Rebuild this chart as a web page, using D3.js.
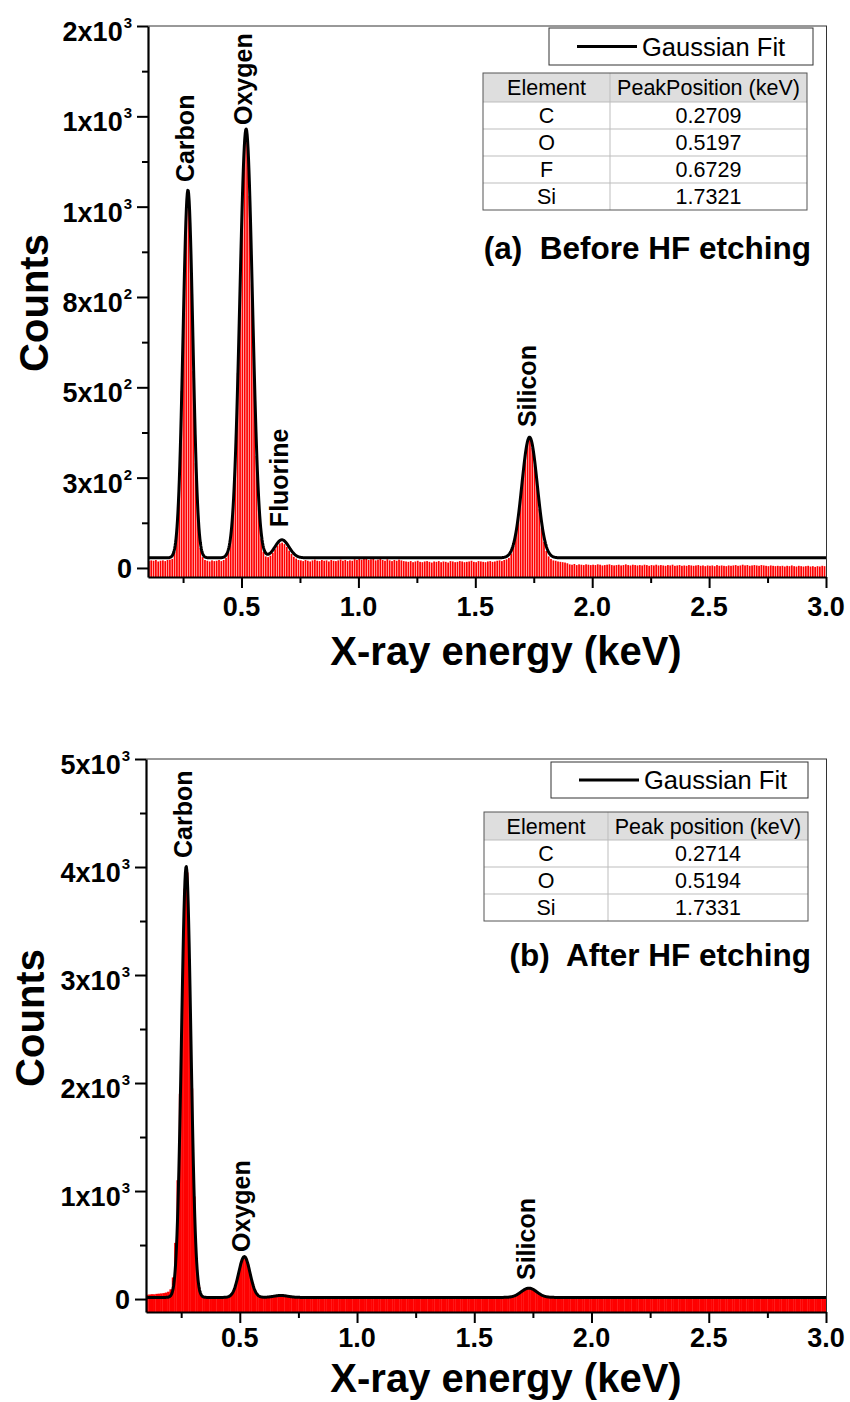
<!DOCTYPE html>
<html><head><meta charset="utf-8">
<script src="https://cdn.jsdelivr.net/npm/d3@7"></script>
<style>
body{margin:0;background:#fff}
svg{display:block}
text{font-family:"Liberation Sans",Arial,Helvetica,sans-serif}
</style>
</head><body>
<svg id="chart" width="850" height="1402"></svg>
<script>
// ---------------- DATA ----------------
const channelStart = 0.10, channelWidth = 0.01;   // keV per channel

// (a) Before HF etching: counts per 0.01 keV channel, 0.10 .. 2.99 keV
const countsA = [
  19,21,20,22,18,20,21,19,22,23,
  25,45,110,250,490,780,995,1010,830,545,290,130,55,30,22,
  20,18,21,19,20,22,19,
  22,28,44,85,172,320,540,800,1040,1185,1180,1030,785,525,310,165,82,45,
  32,30,34,42,52,62,68,70,66,58,48,39,31,26,22,
  21,19,22,20,18,21,23,20,19,22,20,21,18,22,20,19,21,23,20,22,19,21,20,24,22,
  26,23,25,28,22,24,27,21,23,25,22,20,24,21,19,22,20,23,21,19,
  18,17,19,16,18,20,17,16,18,19,17,15,18,17,19,16,18,17,15,19,
  18,16,17,19,18,16,17,18,20,17,16,19,18,17,16,18,19,17,18,20,21,19,22,
  24,28,40,61,94,140,198,260,314,350,356,332,284,224,163,111,72,47,32,25,21,20,
  18,17,16,15,13,
  10,9,11,8,10,9,8,10,9,8,
  9,8,10,9,7,8,9,10,8,7,
  8,9,7,8,10,8,7,9,8,7,
  8,7,9,8,6,8,7,9,7,8,
  7,6,8,7,9,6,7,8,6,7,
  6,8,7,6,7,8,6,7,5,7,
  6,7,5,8,6,7,6,5,7,6,
  7,8,6,7,9,7,8,6,7,8,
  7,6,8,7,6,5,7,6,5,6,
  5,6,4,6,5,7,5,4,6,5,
  4,5,6,4,5,3,5,4,6,5
];

// (b) After HF etching
const countsB = [
  40,42,45,44,48,50,52,55,60,68,
  90,200,520,1100,1900,2950,3800,3950,3150,1950,950,360,120,40,22,
  18,16,17,15,16,18,15,17,16,19,
  25,45,85,150,240,330,385,380,320,228,140,78,42,25,20,
  17,16,18,
  20,24,28,31,33,33,31,28,24,20,
  16,15,17,16,14,18,15,16,17,15,
  16,17,15,14,16,18,16,15,17,16,
  15,16,14,17,15,16,18,15,14,16,
  17,15,16,14,15,17,16,15,16,14,
  15,17,16,15,14,16,17,15,16,15,
  14,16,15,17,16,14,15,16,17,15,
  16,15,14,16,17,15,16,14,15,16,
  17,15,16,15,14,16,15,17,16,15,
  14,16,15,16,17,15,14,16,15,16,
  17,18,
  20,26,34,46,60,76,90,100,102,97,85,70,54,40,30,23,19,
  17,16,15,16,14,15,16,15,14,15,
  16,14,15,13,15,14,16,15,13,14,
  15,14,13,15,14,16,13,14,15,13,
  14,13,15,12,14,13,14,15,12,13,
  14,12,13,14,12,13,15,12,13,14,
  12,13,14,12,13,12,14,13,12,13,
  14,12,13,11,13,12,14,12,13,11,
  12,13,11,12,14,12,11,13,12,11,
  12,11,13,12,11,12,13,11,12,12,
  11,12,10,12,11,13,11,12,10,11,
  12,11,10,12,11,10,12,11,13,10,
  11,10,12,11,10,11,12,10
];

// Gaussian fit parameters
const fitBaselineA = 28;
const fitCentersA = [0.2709, 0.5197, 0.6729, 1.7321];
const fitAmpsA    = [1018, 1187, 50, 334];
const fitSigmasA  = [0.021, 0.027, 0.030, 0.033];

const fitBaselineB = 15;
const fitCentersB = [0.2714, 0.5194, 0.675, 1.7331];
const fitAmpsB    = [3990, 378, 18, 86];
const fitSigmasB  = [0.020, 0.024, 0.030, 0.033];

// Axes ticks / labels
const xTicks = [0.5, 1.0, 1.5, 2.0, 2.5, 3.0];
const xTickLabels = ["0.5", "1.0", "1.5", "2.0", "2.5", "3.0"];
const xMinorTicks = [0.25, 0.75, 1.25, 1.75, 2.25, 2.75];

const yTicksA = [0, 250, 500, 750, 1000, 1250, 1500];
const yTickLabelsA = ["0", "3x10^2", "5x10^2", "8x10^2", "1x10^3", "1x10^3", "2x10^3"];
const yMinorTicksA = [125, 375, 625, 875, 1125, 1375];

const yTicksB = [0, 1000, 2000, 3000, 4000, 5000];
const yTickLabelsB = ["0", "1x10^3", "2x10^3", "3x10^3", "4x10^3", "5x10^3"];
const yMinorTicksB = [500, 1500, 2500, 3500, 4500];

// Peak annotations (energy of peak, count level where the label starts)
const peakNamesA = ["Carbon", "Oxygen", "Fluorine", "Silicon"];
const peakLabelEnergyA = [0.2709, 0.5197, 0.6729, 1.7321];
const peakLabelCountsA = [1068, 1226, 113, 390];

const peakNamesB = ["Carbon", "Oxygen", "Silicon"];
const peakLabelEnergyB = [0.2714, 0.5194, 1.7331];
const peakLabelCountsB = [4084, 436, 176];

// Tables
const tableHeaderA = ["Element", "PeakPosition (keV)"];
const tableElementsA = ["C", "O", "F", "Si"];
const tablePositionsA = ["0.2709", "0.5197", "0.6729", "1.7321"];

const tableHeaderB = ["Element", "Peak position (keV)"];
const tableElementsB = ["C", "O", "Si"];
const tablePositionsB = ["0.2714", "0.5194", "1.7331"];

const legendLabel = "Gaussian Fit";
const xTitle = "X-ray energy (keV)";
const yTitle = "Counts";
const subtitleA = "(a)  Before HF etching";
const subtitleB = "(b)  After HF etching";

// ---------------- DRAWING ----------------
const svg = d3.select("#chart");
const defs = svg.append("defs");

function drawPanel(cfg) {
  const x = d3.scaleLinear().domain([0.1, 3.0]).range([cfg.left, cfg.right]);
  const y = d3.scaleLinear().domain(cfg.yDomain).range([cfg.bottom, cfg.top]);
  const g = svg.append("g");

  const clipId = "clip" + cfg.id;
  defs.append("clipPath").attr("id", clipId).append("rect")
    .attr("x", cfg.left).attr("y", cfg.top)
    .attr("width", cfg.right - cfg.left).attr("height", cfg.bottom - cfg.top);

  const plot = g.append("g").attr("clip-path", `url(#${clipId})`);

  // spectrum bars
  plot.selectAll("rect.bar").data(cfg.counts).join("rect")
    .attr("class", "bar")
    .attr("x", (d, i) => x(channelStart + i * channelWidth))
    .attr("width", (d, i) => Math.max(0.5, x(channelStart + (i + 1) * channelWidth) - x(channelStart + i * channelWidth) + cfg.barAdjust))
    .attr("y", d => y(d))
    .attr("height", d => y(cfg.yDomain[0]) - y(d))
    .attr("fill", "#ff0000");

  // gaussian fit
  const es = d3.range(0.1, 3.0005, 0.002);
  const fit = e => cfg.fitBaseline + d3.sum(cfg.fitCenters, (c, k) =>
      cfg.fitAmps[k] * Math.exp(-((e - c) ** 2) / (2 * cfg.fitSigmas[k] ** 2)));
  plot.append("path")
    .datum(es)
    .attr("d", d3.line().x(e => x(e)).y(e => y(fit(e))))
    .attr("fill", "none").attr("stroke", "#000").attr("stroke-width", 3)
    .attr("stroke-linejoin", "round");

  // frame (top, right thin)
  g.append("line").attr("x1", cfg.left).attr("x2", cfg.right + 1).attr("y1", cfg.top).attr("y2", cfg.top)
    .attr("stroke", "#333").attr("stroke-width", 1);
  g.append("line").attr("x1", cfg.right + 0.5).attr("x2", cfg.right + 0.5).attr("y1", cfg.top).attr("y2", cfg.bottom)
    .attr("stroke", "#333").attr("stroke-width", 1);

  // y axis
  const yAxis = g.append("g").attr("transform", `translate(${cfg.left},0)`)
    .call(d3.axisLeft(y).tickValues(cfg.yTicks).tickSize(11).tickSizeOuter(0).tickFormat(""));
  yAxis.select(".domain").attr("stroke-width", 2.2);
  yAxis.selectAll(".tick line").attr("stroke-width", 2);
  const yMinor = g.append("g").attr("transform", `translate(${cfg.left},0)`)
    .call(d3.axisLeft(y).tickValues(cfg.yMinor).tickSize(6).tickSizeOuter(0).tickFormat(""));
  yMinor.select(".domain").remove();
  yMinor.selectAll(".tick line").attr("stroke-width", 2);

  cfg.yTicks.forEach((t, i) => {
    const label = cfg.yTickLabels[i];
    const parts = label.split("^");
    const txt = g.append("text")
      .attr("x", cfg.left - 16).attr("text-anchor", "end")
      .attr("font-weight", "bold").attr("font-size", 27);
    if (parts.length === 1) {
      txt.attr("y", y(t) + 10).text(label);
    } else {
      txt.attr("y", y(t) + 15);
      txt.append("tspan").text(parts[0]);
      txt.append("tspan").attr("font-size", 15).attr("dy", -13).attr("dx", 1).text(parts[1]);
    }
  });

  // x axis
  const xAxis = g.append("g").attr("transform", `translate(0,${cfg.bottom})`)
    .call(d3.axisBottom(x).tickValues(xTicks).tickSize(11).tickSizeOuter(0).tickFormat(""));
  xAxis.select(".domain").attr("stroke-width", 2.2);
  xAxis.selectAll(".tick line").attr("stroke-width", 2);
  const xMinor = g.append("g").attr("transform", `translate(0,${cfg.bottom})`)
    .call(d3.axisBottom(x).tickValues(xMinorTicks).tickSize(6).tickSizeOuter(0).tickFormat(""));
  xMinor.select(".domain").remove();
  xMinor.selectAll(".tick line").attr("stroke-width", 2);

  xTicks.forEach((t, i) => {
    g.append("text").attr("x", x(t)).attr("y", cfg.bottom + cfg.xLabelOff)
      .attr("text-anchor", "middle").attr("font-weight", "bold").attr("font-size", 27)
      .text(xTickLabels[i]);
  });

  // axis titles
  g.append("text").attr("x", 506).attr("y", cfg.bottom + cfg.xTitleOff)
    .attr("text-anchor", "middle").attr("font-weight", "bold").attr("font-size", 40)
    .text(xTitle);
  g.append("text")
    .attr("transform", `translate(${cfg.yTitleX},${cfg.yTitleY}) rotate(-90)`)
    .attr("text-anchor", "middle").attr("font-weight", "bold").attr("font-size", 40)
    .text(yTitle);

  // peak labels
  cfg.peakNames.forEach((name, i) => {
    g.append("text")
      .attr("transform", `translate(${x(cfg.peakEnergy[i]) + 6},${y(cfg.peakCounts[i])}) rotate(-90)`)
      .attr("font-weight", "bold").attr("font-size", 25)
      .text(name);
  });

  // legend
  const L = cfg.legend;
  g.append("rect").attr("x", L.x).attr("y", L.y).attr("width", L.w).attr("height", L.h)
    .attr("fill", "#fff").attr("stroke", "#333").attr("stroke-width", 1);
  g.append("line").attr("x1", L.x + 28).attr("x2", L.x + 88)
    .attr("y1", L.y + L.h / 2).attr("y2", L.y + L.h / 2)
    .attr("stroke", "#000").attr("stroke-width", 3);
  g.append("text").attr("x", L.x + 93).attr("y", L.y + L.h / 2 + 9)
    .attr("font-size", 25.5).text(legendLabel);

  // table
  const T = cfg.table;
  const nRows = cfg.tableElements.length;
  const rowsY = [T.y, T.y + T.headH];
  for (let r = 0; r < nRows; r++) rowsY.push(rowsY[rowsY.length - 1] + T.rowH);
  const tb = g.append("g");
  tb.append("rect").attr("x", T.x).attr("y", T.y).attr("width", T.w).attr("height", T.headH)
    .attr("fill", "#dedede");
  tb.append("rect").attr("x", T.x).attr("y", T.y + T.headH).attr("width", T.w)
    .attr("height", rowsY[rowsY.length - 1] - T.y - T.headH).attr("fill", "#fff");
  for (let r = 1; r < rowsY.length - 1; r++) {
    tb.append("line").attr("x1", T.x).attr("x2", T.x + T.w).attr("y1", rowsY[r]).attr("y2", rowsY[r])
      .attr("stroke", "#bdbdbd").attr("stroke-width", 1);
  }
  tb.append("line").attr("x1", T.div).attr("x2", T.div).attr("y1", T.y).attr("y2", rowsY[rowsY.length - 1])
    .attr("stroke", "#bdbdbd").attr("stroke-width", 1);
  tb.append("rect").attr("x", T.x).attr("y", T.y).attr("width", T.w)
    .attr("height", rowsY[rowsY.length - 1] - T.y)
    .attr("fill", "none").attr("stroke", "#555").attr("stroke-width", 1);
  const c1 = (T.x + T.div) / 2, c2 = (T.div + T.x + T.w) / 2;
  const cell = (cx, cy, s) => tb.append("text").attr("x", cx).attr("y", cy + 7.5)
    .attr("text-anchor", "middle").attr("font-size", 21.5).text(s);
  cell(c1, (rowsY[0] + rowsY[1]) / 2, cfg.tableHeader[0]);
  cell(c2, (rowsY[0] + rowsY[1]) / 2, cfg.tableHeader[1]);
  for (let r = 0; r < nRows; r++) {
    const cy = (rowsY[r + 1] + rowsY[r + 2]) / 2;
    cell(c1, cy, cfg.tableElements[r]);
    cell(c2, cy, cfg.tablePositions[r]);
  }

  // subtitle (right-aligned)
  const S = cfg.subtitle;
  g.append("text").attr("x", S.xEnd).attr("y", S.y).attr("text-anchor", "end")
    .attr("font-weight", "bold").attr("font-size", 31.5)
    .style("white-space", "pre").text(S.text);
}

drawPanel({
  id: "A", left: 148, right: 826, top: 26, bottom: 577,
  yDomain: [-25, 1500],
  counts: countsA, barAdjust: -0.6,
  fitBaseline: fitBaselineA, fitCenters: fitCentersA, fitAmps: fitAmpsA, fitSigmas: fitSigmasA,
  yTicks: yTicksA, yTickLabels: yTickLabelsA, yMinor: yMinorTicksA,
  xLabelOff: 39, xTitleOff: 88,
  yTitleX: 48, yTitleY: 303,
  peakNames: peakNamesA, peakEnergy: peakLabelEnergyA, peakCounts: peakLabelCountsA,
  legend: {x: 549, y: 28, w: 264, h: 37},
  table: {x: 483, y: 73, w: 324, div: 610, headH: 29, rowH: 27},
  tableHeader: tableHeaderA, tableElements: tableElementsA, tablePositions: tablePositionsA,
  subtitle: {xEnd: 811, y: 259, text: subtitleA}
});

drawPanel({
  id: "B", left: 146, right: 826, top: 759, bottom: 1312,
  yDomain: [-120, 5000],
  counts: countsB, barAdjust: 0.3,
  fitBaseline: fitBaselineB, fitCenters: fitCentersB, fitAmps: fitAmpsB, fitSigmas: fitSigmasB,
  yTicks: yTicksB, yTickLabels: yTickLabelsB, yMinor: yMinorTicksB,
  xLabelOff: 35, xTitleOff: 80,
  yTitleX: 44, yTitleY: 1018,
  peakNames: peakNamesB, peakEnergy: peakLabelEnergyB, peakCounts: peakLabelCountsB,
  legend: {x: 551, y: 762, w: 257, h: 36},
  table: {x: 484, y: 812, w: 324, div: 608, headH: 28, rowH: 27},
  tableHeader: tableHeaderB, tableElements: tableElementsB, tablePositions: tablePositionsB,
  subtitle: {xEnd: 811, y: 966, text: subtitleB}
});
</script>
</body></html>
